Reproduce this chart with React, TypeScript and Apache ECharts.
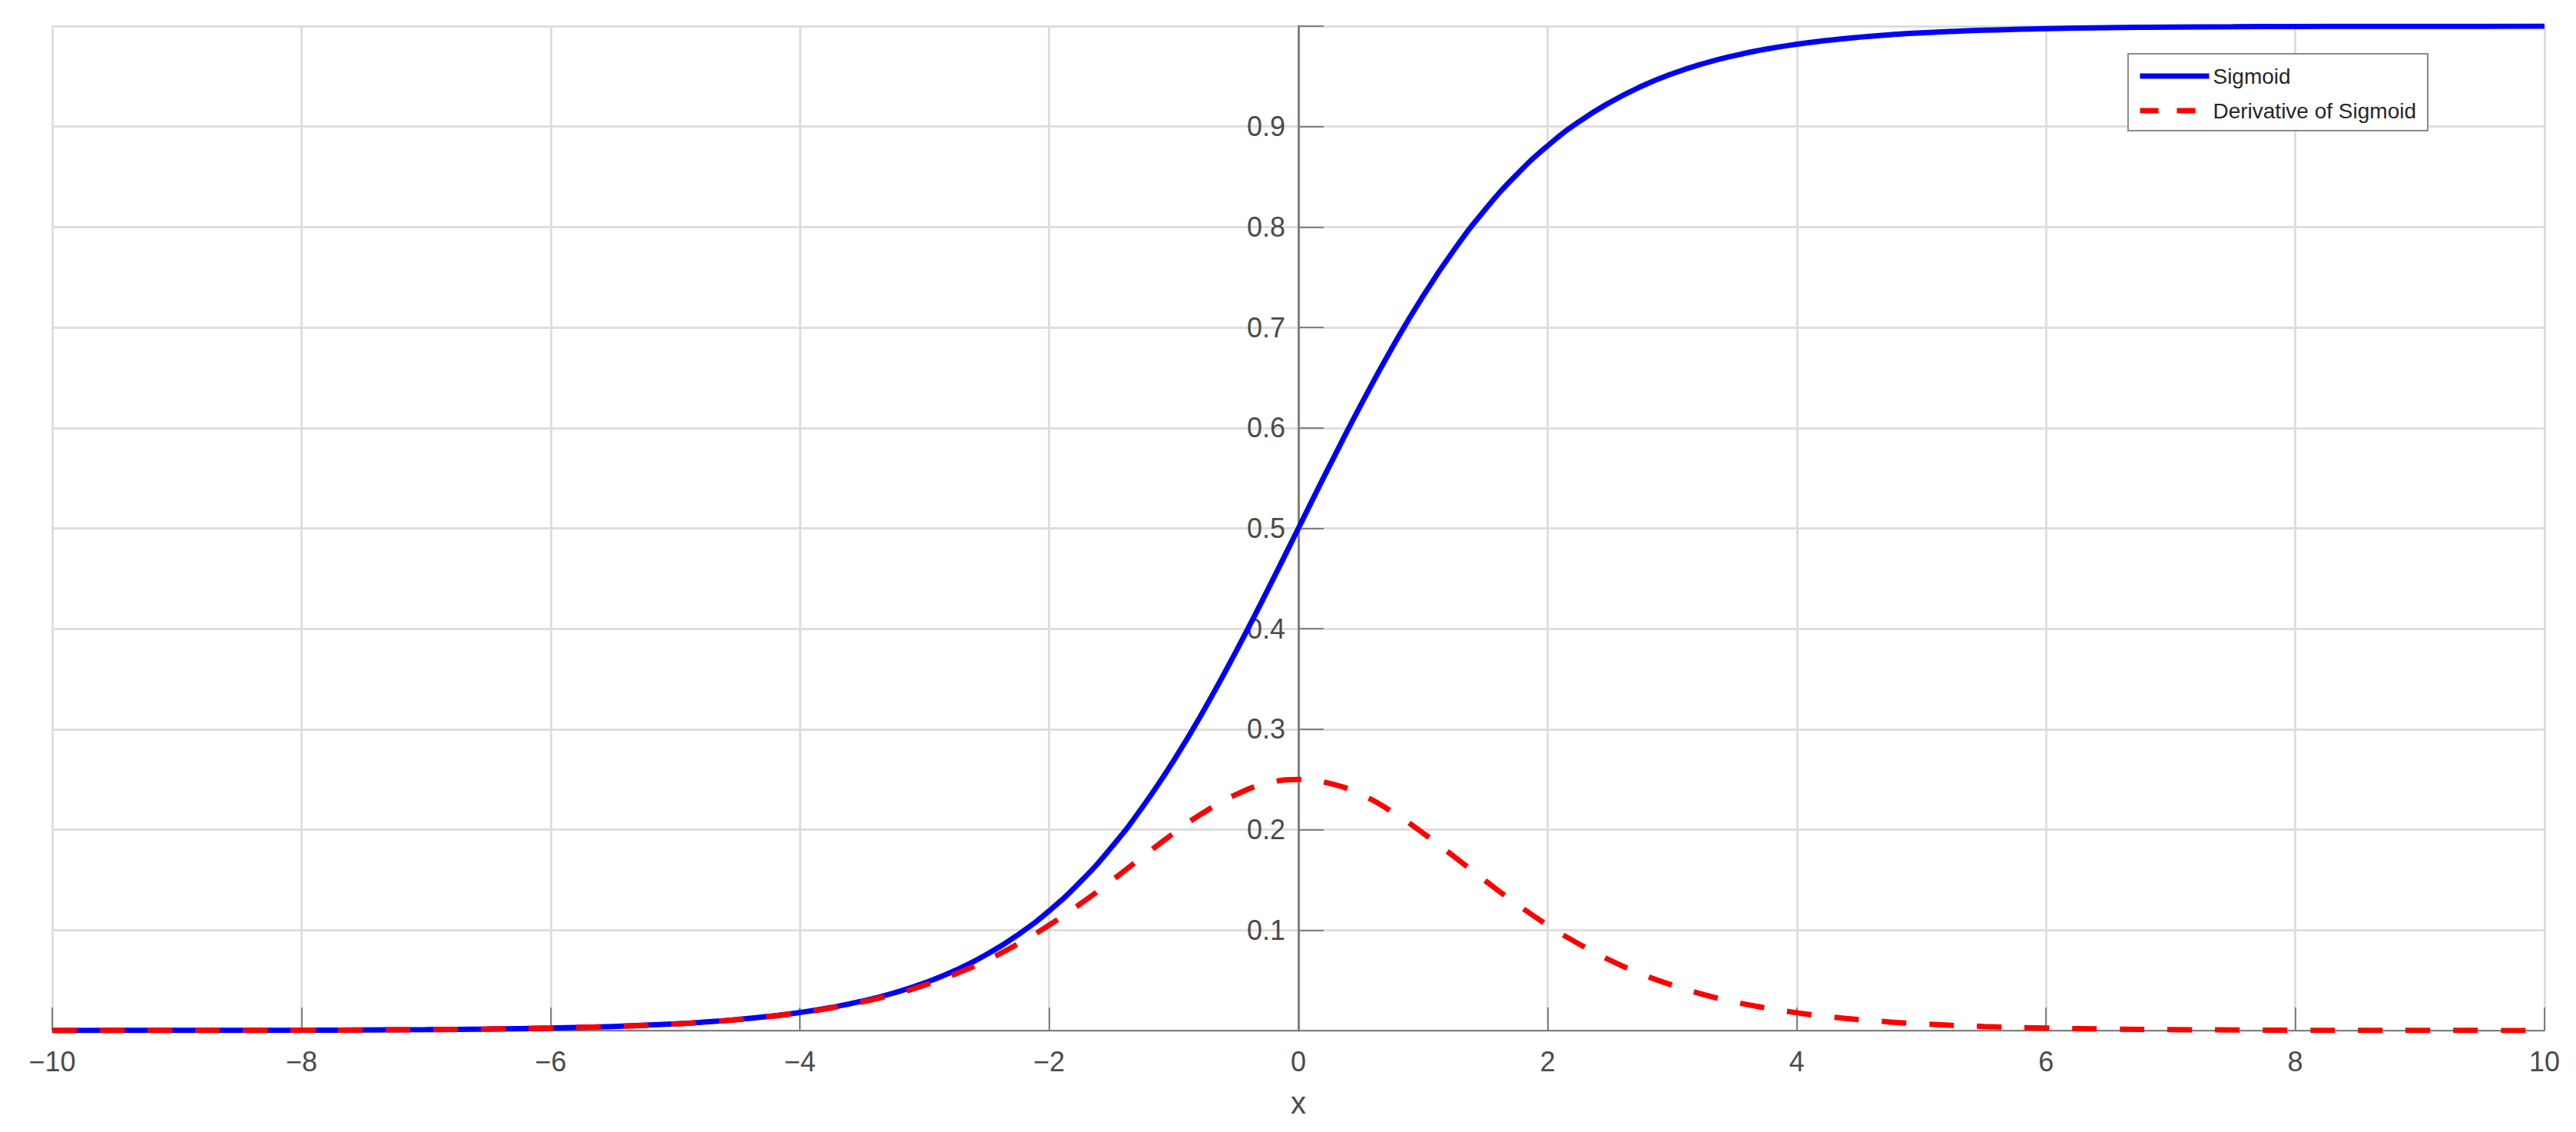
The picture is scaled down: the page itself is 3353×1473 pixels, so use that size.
import React, { useEffect, useRef } from "react";
import * as echarts from "echarts";

const xValues = [
  -10, -9.5, -9, -8.5, -8, -7.5, -7, -6.5, -6, -5.5, -5,
  -4.75, -4.5, -4.25, -4, -3.75, -3.5, -3.25, -3, -2.75, -2.5, -2.25, -2, -1.75, -1.5, -1.25, -1, -0.75, -0.5, -0.25,
  0, 0.25, 0.5, 0.75, 1, 1.25, 1.5, 1.75, 2, 2.25, 2.5, 2.75, 3, 3.25, 3.5, 3.75, 4, 4.25, 4.5, 4.75,
  5, 5.5, 6, 6.5, 7, 7.5, 8, 8.5, 9, 9.5, 10,
];

const sigmoidValues = [
  0.0000, 0.0001, 0.0001, 0.0002, 0.0003, 0.0006, 0.0009, 0.0015, 0.0025, 0.0041, 0.0067,
  0.0086, 0.0110, 0.0141, 0.0180, 0.0230, 0.0293, 0.0373, 0.0474, 0.0601, 0.0759, 0.0954, 0.1192, 0.1480, 0.1824, 0.2227, 0.2689, 0.3208, 0.3775, 0.4378,
  0.5000, 0.5622, 0.6225, 0.6792, 0.7311, 0.7773, 0.8176, 0.8520, 0.8808, 0.9047, 0.9241, 0.9399, 0.9526, 0.9627, 0.9707, 0.9770, 0.9820, 0.9859, 0.9890, 0.9914,
  0.9933, 0.9959, 0.9975, 0.9985, 0.9991, 0.9994, 0.9997, 0.9998, 0.9999, 0.9999, 1.0000,
];

const derivativeValues = [
  0.0000, 0.0001, 0.0001, 0.0002, 0.0003, 0.0006, 0.0009, 0.0015, 0.0025, 0.0041, 0.0066,
  0.0085, 0.0109, 0.0139, 0.0177, 0.0225, 0.0285, 0.0359, 0.0452, 0.0565, 0.0701, 0.0863, 0.1050, 0.1261, 0.1491, 0.1731, 0.1966, 0.2179, 0.2350, 0.2461,
  0.2500, 0.2461, 0.2350, 0.2179, 0.1966, 0.1731, 0.1491, 0.1261, 0.1050, 0.0863, 0.0701, 0.0565, 0.0452, 0.0359, 0.0285, 0.0225, 0.0177, 0.0139, 0.0109, 0.0085,
  0.0066, 0.0041, 0.0025, 0.0015, 0.0009, 0.0006, 0.0003, 0.0002, 0.0001, 0.0001, 0.0000,
];

const seriesNames = ["Sigmoid", "Derivative of Sigmoid"];
const xAxisName = "x";

const FONT = "Liberation Sans";
const TEXT = "#4a4a4a";
const AXIS = "#808080";
const GRID = "#dedede";

const W = 3353;
const H = 1473;
const GRID_LEFT = 68;
const GRID_RIGHT = 41;

function fmtX(v: number): string {
  return v < 0 ? "\u2212" + Math.abs(v) : String(v);
}

export default function App() {
  const ref = useRef<HTMLDivElement>(null);

  useEffect(() => {
    document.body.style.margin = "0";
    if (!ref.current) return;
    const chart = echarts.init(ref.current, null, { renderer: "svg" });
    const sig = xValues.map((x, i) => [x, sigmoidValues[i]]);
    const der = xValues.map((x, i) => [x, derivativeValues[i]]);
    const plotWidth = W - GRID_LEFT - GRID_RIGHT;
    // place the y axis at x = 0 (middle of [-10, 10])
    const yOffset = -plotWidth * (0 - -10) / 20;
    chart.setOption({
      animation: false,
      backgroundColor: "#ffffff",
      textStyle: { fontFamily: FONT },
      grid: { left: GRID_LEFT, right: GRID_RIGHT, top: 34, bottom: 132, containLabel: false },
      legend: {
        orient: "vertical",
        right: 193,
        top: 70,
        backgroundColor: "#ffffff",
        borderColor: "#8a8a8a",
        borderWidth: 2,
        borderRadius: 0,
        padding: [15, 15, 12, 12],
        itemGap: 17,
        itemWidth: 90,
        itemHeight: 14,
        textStyle: { fontSize: 28, color: "#262626", fontFamily: FONT },
        itemStyle: { opacity: 0 },
        lineStyle: { width: 7 },
        data: [
          { name: seriesNames[0] },
          { name: seriesNames[1], lineStyle: { type: [24, 24], width: 7 } },
        ],
      },
      xAxis: {
        type: "value",
        min: -10,
        max: 10,
        interval: 2,
        name: xAxisName,
        nameLocation: "middle",
        nameGap: 74,
        nameTextStyle: { fontSize: 40, color: TEXT, fontFamily: FONT },
        axisLine: { onZero: false, lineStyle: { color: AXIS, width: 2 } },
        axisTick: { inside: true, length: 30, lineStyle: { color: AXIS, width: 2 } },
        axisLabel: { fontSize: 36, color: TEXT, margin: 22, formatter: fmtX, fontFamily: FONT },
        splitLine: { show: true, lineStyle: { color: GRID, width: 3 } },
      },
      yAxis: {
        type: "value",
        min: 0,
        max: 1,
        interval: 0.1,
        position: "left",
        offset: yOffset,
        axisLine: { show: true, onZero: false, lineStyle: { color: AXIS, width: 3 } },
        axisTick: { show: true, inside: true, length: 33, lineStyle: { color: AXIS, width: 2 } },
        axisLabel: {
          fontSize: 36,
          color: TEXT,
          margin: 17,
          fontFamily: FONT,
          formatter: (v: number) => (v <= 0.0001 || v >= 0.9999 ? "" : v.toFixed(1)),
        },
        splitLine: { show: true, lineStyle: { color: GRID, width: 3 } },
      },
      series: [
        {
          name: seriesNames[0],
          type: "line",
          data: sig,
          symbol: "none",
          smooth: 0.5,
          lineStyle: { color: "#0000ff", width: 7 },
          itemStyle: { color: "#0000ff" },
          z: 3,
        },
        {
          name: seriesNames[1],
          type: "line",
          data: der,
          symbol: "none",
          smooth: 0.5,
          lineStyle: { color: "#ff0000", width: 7, type: [32, 30], cap: "butt" },
          itemStyle: { color: "#ff0000" },
          z: 4,
        },
      ],
    });
    return () => chart.dispose();
  }, []);

  return (
    <div
      ref={ref}
      style={{ position: "absolute", left: 0, top: 0, width: W, height: H }}
    />
  );
}
